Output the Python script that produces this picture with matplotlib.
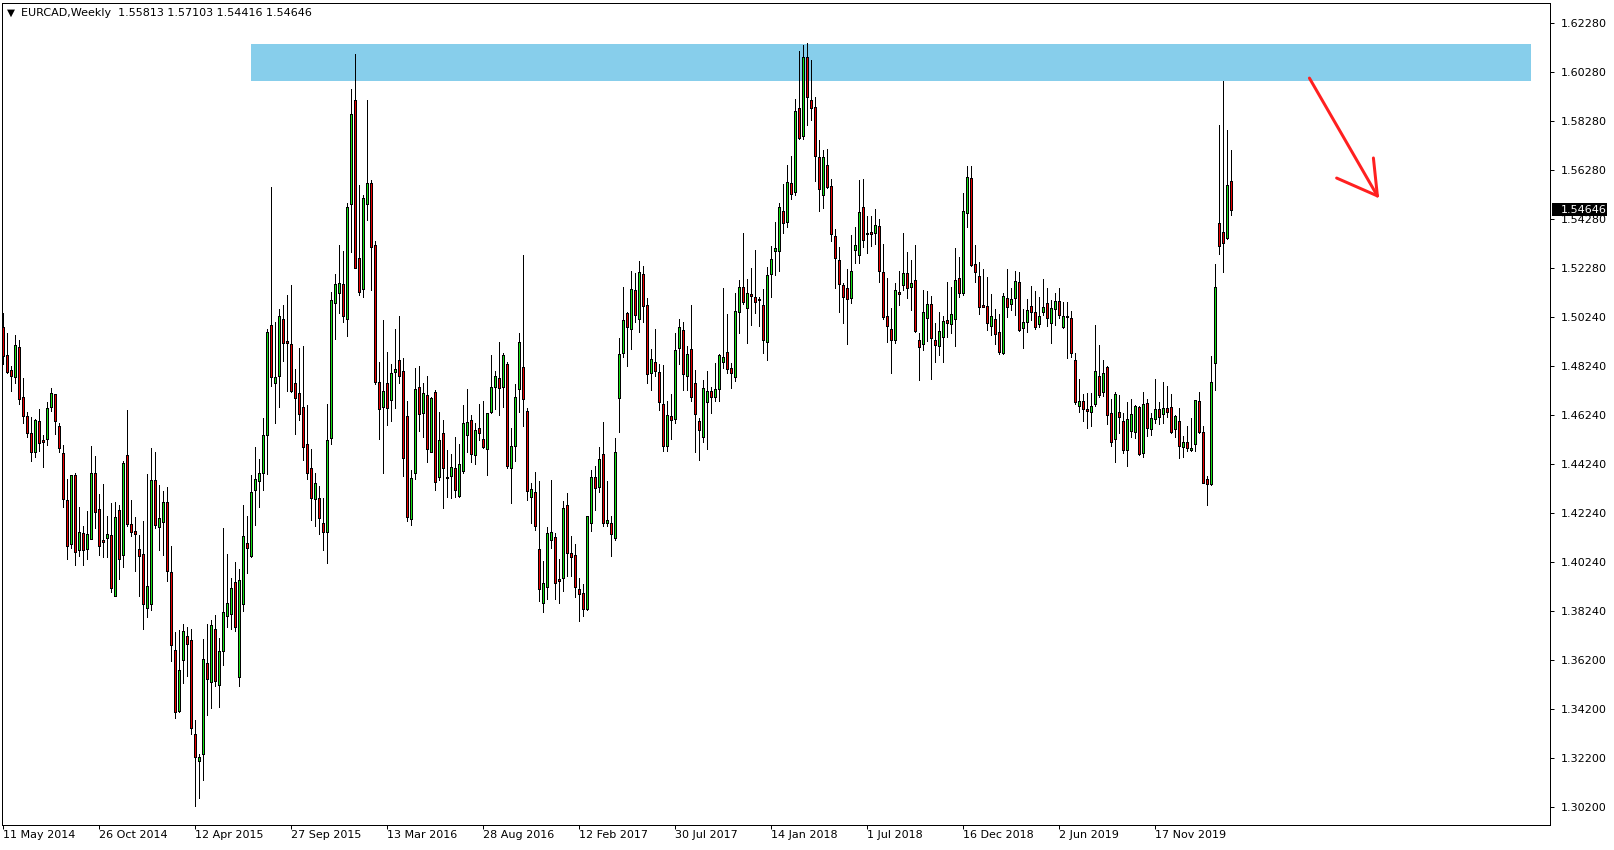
import matplotlib
matplotlib.use("Agg")
import matplotlib.pyplot as plt
from matplotlib.patches import Rectangle
import numpy as np

# EURCAD weekly bars, 11 May 2014 .. 29 Mar 2020
opens = [
    1.4985, 1.4871, 1.4811, 1.4781, 1.4903, 1.4699, 1.4623, 1.4552, 1.4475, 1.4601,
    1.4525, 1.4528, 1.4661, 1.4711, 1.4582, 1.4471, 1.4280, 1.4101, 1.4381, 1.4074,
    1.4144, 1.4079, 1.4120, 1.4389, 1.4242, 1.4117, 1.4124, 1.4136, 1.3887, 1.4240,
    1.4055, 1.4463, 1.4182, 1.4153, 1.4079, 1.4059, 1.3838, 1.3855, 1.4361, 1.4169,
    1.4189, 1.4272, 1.3986, 1.3669, 1.3420, 1.3626, 1.3726, 1.3707, 1.3326, 1.3216,
    1.3243, 1.3616, 1.3537, 1.3755, 1.3525, 1.3664, 1.3808, 1.3816, 1.3945, 1.3559,
    1.3854, 1.4103, 1.4050, 1.4321, 1.4357, 1.4392, 1.4544, 1.4994, 1.4756, 1.4788,
    1.5018, 1.4927, 1.4915, 1.4756, 1.4716, 1.4658, 1.4507, 1.4411, 1.4284, 1.4287,
    1.4186, 1.4151, 1.4532, 1.5082, 1.5124, 1.5162, 1.5018, 1.5488, 1.5913, 1.5267,
    1.5140, 1.5488, 1.5573, 1.5321, 1.4761, 1.4659, 1.4757, 1.4687, 1.4804, 1.4852,
    1.4807, 1.4623, 1.4202, 1.4389, 1.4740, 1.4634, 1.4709, 1.4474, 1.4720, 1.4373,
    1.4553, 1.4373, 1.4376, 1.4410, 1.4298, 1.4400, 1.4546, 1.4607, 1.4464, 1.4573,
    1.4528, 1.4487, 1.4637, 1.4740, 1.4777, 1.4743, 1.4834, 1.4410, 1.4501, 1.4732,
    1.4822, 1.4644, 1.4294, 1.4312, 1.4079, 1.3859, 1.3924, 1.4115, 1.4128, 1.3957,
    1.3961, 1.4258, 1.4063, 1.4056, 1.3916, 1.3900, 1.3834, 1.4188, 1.4373, 1.4332,
    1.4467, 1.4185, 1.4185, 1.4124, 1.4695, 1.4879, 1.5042, 1.4977, 1.5137, 1.5018,
    1.5201, 1.5075, 1.4797, 1.4845, 1.4801, 1.4671, 1.4502, 1.4621, 1.4610, 1.4899,
    1.4974, 1.4784, 1.4895, 1.4757, 1.4602, 1.4536, 1.4678, 1.4724, 1.4699, 1.4732,
    1.4845, 1.4883, 1.4818, 1.4781, 1.5047, 1.5151, 1.5063, 1.5120, 1.5110, 1.5102,
    1.5075, 1.4924, 1.5201, 1.5298, 1.5298, 1.5461, 1.5414, 1.5573, 1.5535, 1.5879,
    1.5766, 1.6087, 1.5913, 1.5883, 1.5679, 1.5524, 1.5647, 1.5562, 1.5358, 1.5260,
    1.5156, 1.5144, 1.5103, 1.5301, 1.5279, 1.5477, 1.5371, 1.5374, 1.5369, 1.5397,
    1.5209, 1.5031, 1.4978, 1.4933, 1.5129, 1.5158, 1.5205, 1.5151, 1.5177, 1.4931,
    1.4916, 1.5022, 1.5079, 1.4933, 1.4910, 1.4947, 1.5015, 1.4997, 1.5018, 1.5185,
    1.5124, 1.5453, 1.5593, 1.5242, 1.5195, 1.5076, 1.5072, 1.4992, 1.5018, 1.4966,
    1.4879, 1.5103, 1.5079, 1.5103, 1.5169, 1.4981, 1.5008, 1.5072, 1.5046, 1.4997,
    1.5046, 1.5083, 1.5001, 1.5059, 1.5093, 1.4988, 1.5029, 1.5022, 1.4852, 1.4665,
    1.4682, 1.4651, 1.4641, 1.4671, 1.4787, 1.4720, 1.4822, 1.4634, 1.4528, 1.4638,
    1.4603, 1.4482, 1.4562, 1.4559, 1.4659, 1.4471, 1.4675, 1.4569, 1.4610, 1.4651,
    1.4630, 1.4655, 1.4659, 1.4569, 1.4604, 1.4498, 1.4515, 1.4482, 1.4508, 1.4682,
    1.4557, 1.4365, 1.4345, 1.4838, 1.5409, 1.5373, 1.5351, 1.55813,
]
highs = [
    1.5045, 1.4963, 1.4827, 1.4954, 1.4933, 1.4778, 1.4639, 1.4620, 1.4612, 1.4650,
    1.4546, 1.4678, 1.4739, 1.4713, 1.4593, 1.4505, 1.4365, 1.4381, 1.4392, 1.4250,
    1.4172, 1.4236, 1.4501, 1.4460, 1.4305, 1.4346, 1.4215, 1.4267, 1.4272, 1.4259,
    1.4440, 1.4648, 1.4280, 1.4210, 1.4136, 1.4193, 1.4387, 1.4491, 1.4476, 1.4342,
    1.4318, 1.4332, 1.4091, 1.3743, 1.3751, 1.3772, 1.3763, 1.3755, 1.3382, 1.3245,
    1.3712, 1.3774, 1.3789, 1.3811, 1.3717, 1.4167, 1.4060, 1.3961, 1.4026, 1.4000,
    1.4261, 1.4215, 1.4383, 1.4496, 1.4447, 1.4615, 1.4979, 1.5558, 1.5005, 1.5060,
    1.5077, 1.5116, 1.5158, 1.4816, 1.4902, 1.4909, 1.4668, 1.4486, 1.4390, 1.4339,
    1.4287, 1.4673, 1.5130, 1.5202, 1.5321, 1.5298, 1.5494, 1.5956, 1.6100, 1.5566,
    1.5525, 1.5913, 1.5586, 1.5339, 1.4845, 1.5015, 1.4882, 1.4835, 1.4978, 1.5031,
    1.4859, 1.4682, 1.4403, 1.4818, 1.4827, 1.4759, 1.4784, 1.4702, 1.4729, 1.4638,
    1.4607, 1.4485, 1.4468, 1.4539, 1.4509, 1.4668, 1.4733, 1.4627, 1.4593, 1.4672,
    1.4684, 1.4634, 1.4872, 1.4808, 1.4924, 1.4879, 1.4845, 1.4573, 1.4754, 1.4963,
    1.5280, 1.4655, 1.4351, 1.4396, 1.4358, 1.4032, 1.4169, 1.4362, 1.4145, 1.4040,
    1.4277, 1.4308, 1.4134, 1.4101, 1.3961, 1.3938, 1.4215, 1.4403, 1.4419, 1.4496,
    1.4599, 1.4358, 1.4215, 1.4532, 1.4943, 1.5151, 1.5048, 1.5216, 1.5205, 1.5254,
    1.5233, 1.5103, 1.4897, 1.4978, 1.4834, 1.4831, 1.4682, 1.4713, 1.4961, 1.5018,
    1.5008, 1.4909, 1.5076, 1.4811, 1.4615, 1.4770, 1.4807, 1.4743, 1.4838, 1.4875,
    1.5144, 1.5039, 1.4838, 1.5124, 1.5178, 1.5371, 1.5181, 1.5226, 1.5301, 1.5110,
    1.5140, 1.5230, 1.5317, 1.5413, 1.5491, 1.5570, 1.5647, 1.5684, 1.5917, 1.6114,
    1.6137, 1.6146, 1.6076, 1.5923, 1.5749, 1.5709, 1.5711, 1.5590, 1.5385, 1.5314,
    1.5165, 1.5222, 1.5362, 1.5396, 1.5584, 1.5589, 1.5439, 1.5439, 1.5467, 1.5426,
    1.5325, 1.5185, 1.5063, 1.5165, 1.5215, 1.5371, 1.5294, 1.5260, 1.5321, 1.4963,
    1.5135, 1.5133, 1.5114, 1.5001, 1.5046, 1.5029, 1.5171, 1.5151, 1.5309, 1.5271,
    1.5532, 1.5643, 1.5643, 1.5321, 1.5253, 1.5224, 1.5192, 1.5121, 1.5060, 1.5040,
    1.5124, 1.5222, 1.5144, 1.5215, 1.5209, 1.5059, 1.5099, 1.5154, 1.5133, 1.5110,
    1.5182, 1.5144, 1.5097, 1.5124, 1.5147, 1.5086, 1.5086, 1.5053, 1.4879, 1.4774,
    1.4712, 1.4716, 1.4716, 1.4995, 1.4913, 1.4852, 1.4827, 1.4691, 1.4719, 1.4709,
    1.4634, 1.4678, 1.4691, 1.4668, 1.4664, 1.4720, 1.4691, 1.4634, 1.4774, 1.4678,
    1.4761, 1.4746, 1.4713, 1.4627, 1.4655, 1.4543, 1.4583, 1.4614, 1.4689, 1.4719,
    1.4583, 1.4379, 1.4868, 1.5242, 1.5811, 1.5990, 1.5790, 1.57103,
]
lows = [
    1.4835, 1.4797, 1.4726, 1.4756, 1.4672, 1.4593, 1.4539, 1.4441, 1.4454, 1.4478,
    1.4416, 1.4506, 1.4645, 1.4548, 1.4474, 1.4253, 1.4038, 1.4083, 1.4015, 1.4052,
    1.4013, 1.4038, 1.4120, 1.4165, 1.4056, 1.4046, 1.4046, 1.3905, 1.3887, 1.3959,
    1.4008, 1.4174, 1.4131, 1.3992, 1.3886, 1.3755, 1.3804, 1.3829, 1.4165, 1.4074,
    1.4056, 1.3951, 1.3623, 1.3389, 1.3416, 1.3532, 1.3562, 1.3326, 1.3030, 1.3064,
    1.3137, 1.3404, 1.3429, 1.3520, 1.3434, 1.3605, 1.3760, 1.3755, 1.3746, 1.3520,
    1.3825, 1.3983, 1.4047, 1.4177, 1.4253, 1.4321, 1.4387, 1.4744, 1.4596, 1.4661,
    1.4847, 1.4723, 1.4721, 1.4548, 1.4605, 1.4445, 1.4366, 1.4198, 1.4172, 1.4143,
    1.4074, 1.4021, 1.4510, 1.4939, 1.5042, 1.5008, 1.4950, 1.5294, 1.5226, 1.5117,
    1.5110, 1.5423, 1.5137, 1.4753, 1.4528, 1.4389, 1.4587, 1.4604, 1.4655, 1.4759,
    1.4376, 1.4196, 1.4179, 1.4365, 1.4563, 1.4539, 1.4433, 1.4474, 1.4319, 1.4362,
    1.4247, 1.4294, 1.4287, 1.4294, 1.4291, 1.4392, 1.4474, 1.4433, 1.4427, 1.4526,
    1.4491, 1.4380, 1.4634, 1.4650, 1.4627, 1.4661, 1.4410, 1.4267, 1.4437, 1.4637,
    1.4583, 1.4281, 1.4188, 1.4158, 1.3866, 1.3821, 1.3877, 1.4083, 1.3877, 1.3859,
    1.3907, 1.3968, 1.3968, 1.3882, 1.3784, 1.3805, 1.3832, 1.4155, 1.4240, 1.4311,
    1.4175, 1.4175, 1.4053, 1.4117, 1.4559, 1.4865, 1.4825, 1.4897, 1.5008, 1.4967,
    1.5008, 1.4759, 1.4727, 1.4784, 1.4648, 1.4478, 1.4480, 1.4530, 1.4593, 1.4835,
    1.4727, 1.4727, 1.4682, 1.4475, 1.4444, 1.4515, 1.4487, 1.4634, 1.4682, 1.4682,
    1.4818, 1.4800, 1.4736, 1.4767, 1.4961, 1.5080, 1.4920, 1.4995, 1.5045, 1.4992,
    1.4879, 1.4852, 1.5107, 1.5199, 1.5216, 1.5371, 1.5396, 1.5507, 1.5525, 1.5752,
    1.5752, 1.5811, 1.5831, 1.5583, 1.5461, 1.5471, 1.5552, 1.5335, 1.5147, 1.5049,
    1.5001, 1.4916, 1.5083, 1.5246, 1.5246, 1.5311, 1.5287, 1.5317, 1.5325, 1.5171,
    1.5018, 1.4923, 1.4797, 1.4920, 1.5076, 1.5137, 1.5103, 1.5056, 1.4967, 1.4770,
    1.4893, 1.4927, 1.4773, 1.4845, 1.4872, 1.4845, 1.4947, 1.4961, 1.4910, 1.5110,
    1.5117, 1.5396, 1.5233, 1.5171, 1.5039, 1.5067, 1.4974, 1.4954, 1.4917, 1.4875,
    1.4876, 1.5025, 1.5056, 1.5035, 1.4971, 1.4902, 1.4967, 1.5015, 1.4977, 1.4985,
    1.5035, 1.4992, 1.4922, 1.4995, 1.5022, 1.4981, 1.4861, 1.4863, 1.4672, 1.4637,
    1.4604, 1.4573, 1.4580, 1.4665, 1.4702, 1.4706, 1.4591, 1.4502, 1.4433, 1.4555,
    1.4471, 1.4417, 1.4539, 1.4532, 1.4464, 1.4455, 1.4543, 1.4546, 1.4596, 1.4589,
    1.4596, 1.4618, 1.4555, 1.4539, 1.4451, 1.4457, 1.4478, 1.4478, 1.4478, 1.4553,
    1.4349, 1.4260, 1.4342, 1.4727, 1.5284, 1.5212, 1.5345, 1.54416,
]
closes = [
    1.4868, 1.4801, 1.4784, 1.4911, 1.4691, 1.4624, 1.4552, 1.4475, 1.4607, 1.4514,
    1.4518, 1.4656, 1.4716, 1.4601, 1.4491, 1.4283, 1.4093, 1.4381, 1.4066, 1.4148,
    1.4074, 1.4140, 1.4389, 1.4229, 1.4094, 1.4110, 1.4140, 1.3919, 1.4212, 1.4038,
    1.4431, 1.4182, 1.4151, 1.4142, 1.4052, 1.3855, 1.3930, 1.4361, 1.4176, 1.4206,
    1.4272, 1.3992, 1.3688, 1.3413, 1.3586, 1.3746, 1.3691, 1.3348, 1.3231, 1.3231,
    1.3631, 1.3550, 1.3769, 1.3542, 1.3664, 1.3823, 1.3860, 1.3920, 1.3760, 1.3952,
    1.4132, 1.4083, 1.4313, 1.4364, 1.4392, 1.4544, 1.4967, 1.4781, 1.4781, 1.5030,
    1.4922, 1.4919, 1.4725, 1.4696, 1.4630, 1.4498, 1.4390, 1.4287, 1.4349, 1.4205,
    1.4151, 1.4524, 1.5096, 1.5161, 1.5165, 1.5029, 1.5475, 1.5854, 1.5226, 1.5127,
    1.5511, 1.5575, 1.5314, 1.4763, 1.4650, 1.4725, 1.4655, 1.4797, 1.4815, 1.4784,
    1.4453, 1.4210, 1.4369, 1.4732, 1.4630, 1.4716, 1.4487, 1.4695, 1.4355, 1.4525,
    1.4410, 1.4368, 1.4414, 1.4319, 1.4426, 1.4593, 1.4598, 1.4467, 1.4566, 1.4553,
    1.4496, 1.4634, 1.4740, 1.4784, 1.4736, 1.4872, 1.4419, 1.4501, 1.4700, 1.4924,
    1.4691, 1.4315, 1.4324, 1.4172, 1.3916, 1.3941, 1.4145, 1.4151, 1.3943, 1.3951,
    1.4247, 1.4063, 1.4049, 1.3923, 1.3896, 1.3834, 1.4213, 1.4373, 1.4328, 1.4447,
    1.4188, 1.4199, 1.4140, 1.4475, 1.4875, 1.5015, 1.4985, 1.5140, 1.5033, 1.5209,
    1.5073, 1.4793, 1.4855, 1.4808, 1.4678, 1.4502, 1.4625, 1.4607, 1.4893, 1.4985,
    1.4795, 1.4875, 1.4699, 1.4630, 1.4565, 1.4736, 1.4725, 1.4699, 1.4732, 1.4872,
    1.4865, 1.4814, 1.4797, 1.5052, 1.5151, 1.5086, 1.5124, 1.5114, 1.5087, 1.5097,
    1.4931, 1.5199, 1.5263, 1.5307, 1.5475, 1.5409, 1.5579, 1.5529, 1.5868, 1.5759,
    1.6087, 1.5924, 1.5879, 1.5685, 1.5548, 1.5679, 1.5556, 1.5366, 1.5269, 1.5160,
    1.5107, 1.5099, 1.5214, 1.5321, 1.5454, 1.5341, 1.5366, 1.5364, 1.5401, 1.5216,
    1.5025, 1.4992, 1.4933, 1.5137, 1.5121, 1.5205, 1.5144, 1.5165, 1.4971, 1.4903,
    1.5046, 1.5079, 1.4940, 1.4913, 1.4970, 1.5011, 1.5001, 1.5040, 1.5178, 1.5126,
    1.5460, 1.5597, 1.5238, 1.5210, 1.5069, 1.5069, 1.5004, 1.5029, 1.4957, 1.4882,
    1.5113, 1.5069, 1.5099, 1.5174, 1.4974, 1.5006, 1.5056, 1.5046, 1.4985, 1.5031,
    1.5069, 1.5022, 1.5063, 1.5093, 1.5033, 1.5031, 1.5025, 1.4879, 1.4678, 1.4684,
    1.4651, 1.4645, 1.4664, 1.4807, 1.4709, 1.4798, 1.4625, 1.4515, 1.4713, 1.4617,
    1.4482, 1.4610, 1.4630, 1.4664, 1.4468, 1.4672, 1.4573, 1.4614, 1.4651, 1.4618,
    1.4655, 1.4638, 1.4559, 1.4623, 1.4502, 1.4515, 1.4491, 1.4491, 1.4686, 1.4559,
    1.4351, 1.4345, 1.4763, 1.5148, 1.5318, 1.5328, 1.5566, 1.54646,
]

# date labels every 24 bars
date_idx = [0, 24, 48, 72, 96, 120, 144, 168, 192, 216, 240, 264, 288]
date_labels = ["11 May 2014", "26 Oct 2014", "12 Apr 2015", "27 Sep 2015",
               "13 Mar 2016", "28 Aug 2016", "12 Feb 2017", "30 Jul 2017",
               "14 Jan 2018", "1 Jul 2018", "16 Dec 2018", "2 Jun 2019",
               "17 Nov 2019"]
price_labels = ["1.62280", "1.60280", "1.58280", "1.56280", "1.54280", "1.52280",
                "1.50240", "1.48240", "1.46240", "1.44240", "1.42240", "1.40240",
                "1.38240", "1.36200", "1.34200", "1.32200", "1.30200"]

# resistance zone and arrow (bar index / price)
zone_x = (62.1, 382.0)
zone_y = (1.5989, 1.6140)
arrow_x = [326.6, 343.6]
arrow_y = [1.6002, 1.5521]
head_x = [[333.4, 343.6], [342.6, 343.6]]
head_y = [[1.5594, 1.5521], [1.5676, 1.5521]]

BULL = "#14e014"
BEAR = "#e80000"
W, H = 1615, 850
PX = 72.0 / 100  # one pixel in points

fig = plt.figure(figsize=(W / 100, H / 100), dpi=100)
fig.patch.set_facecolor("white")
left, right, top, bottom = 2, 1550, 3, 825
ax = fig.add_axes([left / W, (H - bottom) / H, (right - left) / W, (bottom - top) / H])
ax.set_facecolor("white")

n = len(opens)
x = np.arange(n)
o = np.array(opens)
c = np.array(closes)
hi = np.array(highs)
lo = np.array(lows)

# y scale: 0.02 per 49 px, 1.6228 at y=22.7 px
ppx = 0.02 / 49.0
ax.set_ylim(1.6228 - (bottom - 22.7) * ppx, 1.6228 + (22.7 - top) * ppx)
x0 = 3.0
ax.set_xlim((left - x0) / 4.0, (right - x0) / 4.0)

ax.add_patch(Rectangle((zone_x[0], zone_y[0]), zone_x[1] - zone_x[0],
                       zone_y[1] - zone_y[0], facecolor="#87ceeb",
                       edgecolor="none", zorder=1))

ax.vlines(x, lo, hi, color="black", linewidth=PX, antialiased=False, zorder=2)
colors = [BULL if cc >= oo else BEAR for oo, cc in zip(o, c)]
ax.bar(x, np.abs(c - o), bottom=np.minimum(o, c), width=0.74, color=colors,
       edgecolor="black", linewidth=PX, antialiased=False, zorder=3)

ax.plot(arrow_x, arrow_y, color="#ff2020", linewidth=3 * PX,
        solid_capstyle="round", zorder=4)
for hx, hy in zip(head_x, head_y):
    ax.plot(hx, hy, color="#ff2020", linewidth=3 * PX, solid_capstyle="round", zorder=4)

# axes styling
for s in ax.spines.values():
    s.set_linewidth(PX)
    s.set_color("black")
ax.yaxis.tick_right()
tick_pos = [1.6228 - 0.02 * k for k in range(len(price_labels))]
ax.set_yticks(tick_pos)
ax.set_yticklabels(price_labels)
ax.set_xticks(date_idx)
ax.set_xticklabels(date_labels)
for lab in ax.get_xticklabels():
    lab.set_horizontalalignment("left")
ax.tick_params(axis="y", direction="out", length=4 * PX, width=PX, pad=5,
               labelsize=8, colors="black")
ax.tick_params(axis="x", direction="out", length=4 * PX, width=PX, pad=0.5,
               labelsize=8, colors="black")

# header
fig.text(7 / W, 1 - 13 / H, "\u25bc", fontsize=7.5, va="center", ha="left")
fig.text(21 / W, 1 - 13 / H, "EURCAD,Weekly  1.55813 1.57103 1.54416 1.54646",
         fontsize=8, va="center", ha="left",
         bbox=dict(facecolor="white", edgecolor="none", pad=1))

# current price tag
last = closes[-1]
ylo, yhi = ax.get_ylim()
tag_y = (last - ylo) / (yhi - ylo) * (bottom - top) + (H - bottom)
fig.patches.append(Rectangle((1552.5 / W, (tag_y - 6.7) / H), 54.5 / W, 13.4 / H,
                             transform=fig.transFigure, facecolor="black",
                             edgecolor="none", zorder=5))
fig.text(1561 / W, tag_y / H, "%.5f" % last, color="white", fontsize=8,
         va="center", ha="left", zorder=6)

fig.savefig("out.png", dpi=100, facecolor="white")
